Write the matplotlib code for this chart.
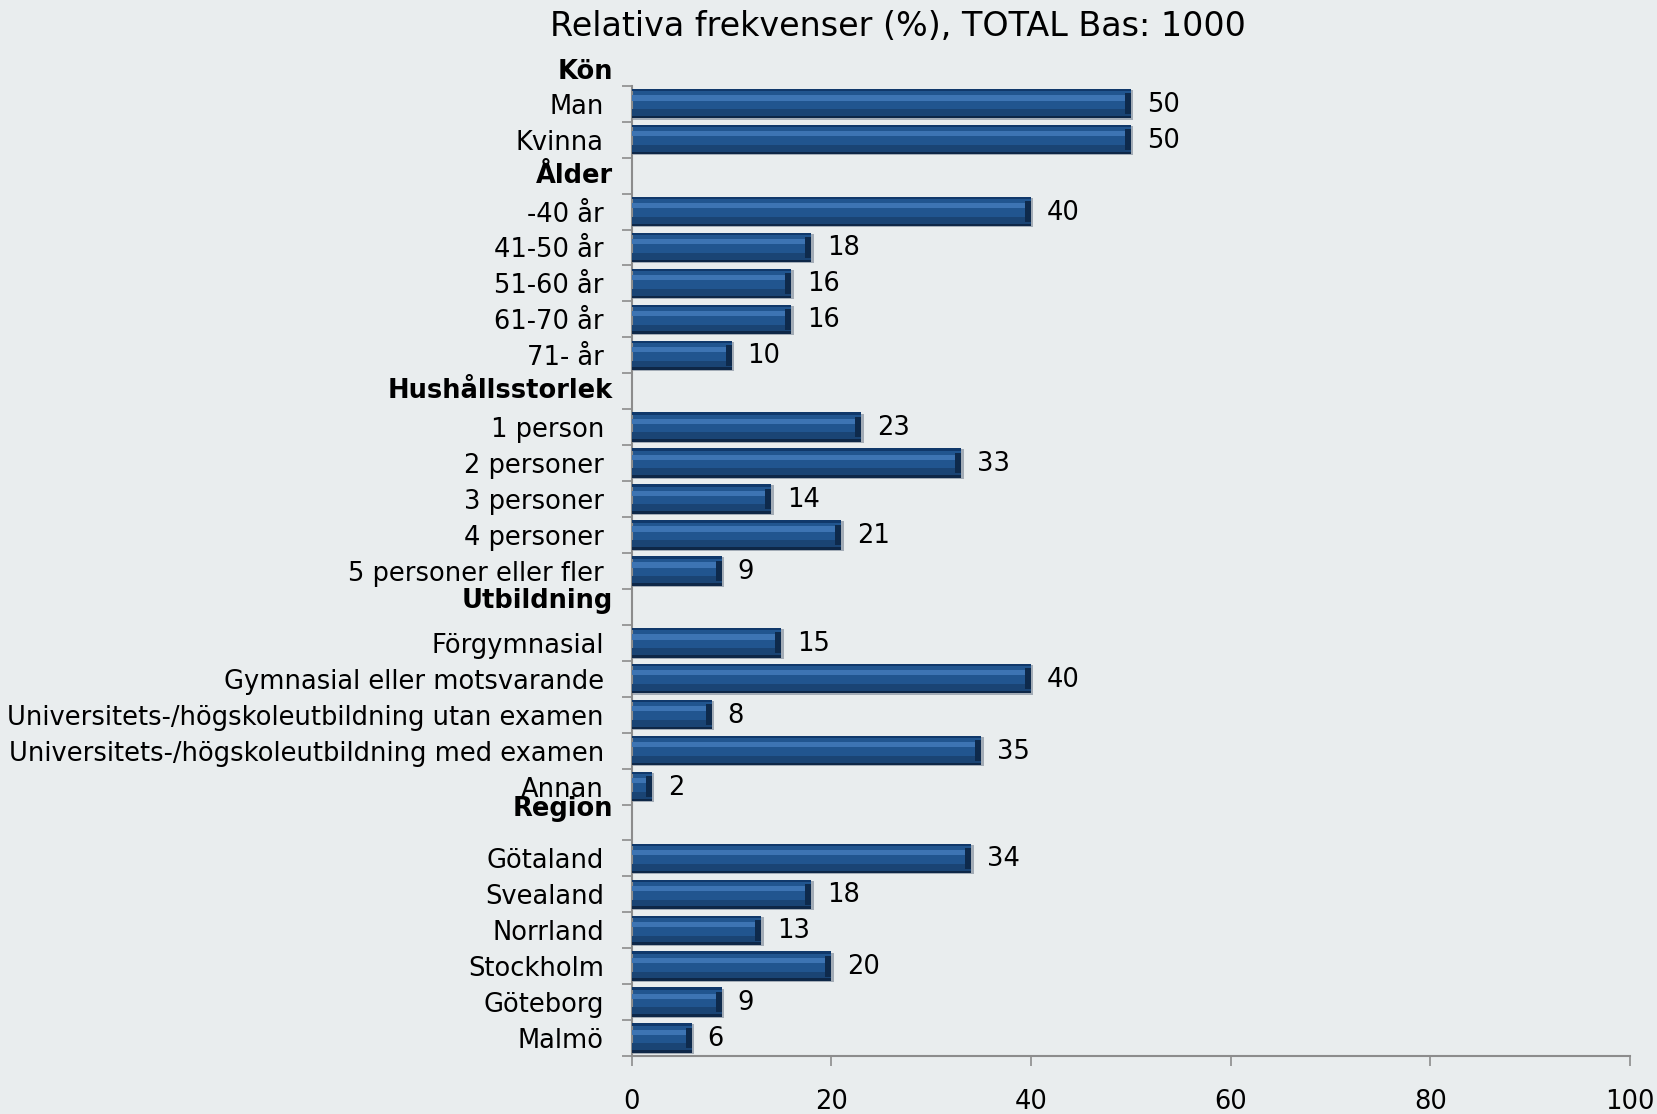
import numpy as np
import matplotlib.pyplot as plt

# categories (empty string = group header row)
labels = ['Man', 'Kvinna', '',
          '-40 år', '41-50 år', '51-60 år', '61-70 år', '71- år', '',
          '1 person', '2 personer', '3 personer', '4 personer', '5 personer eller fler', '',
          'Förgymnasial', 'Gymnasial eller motsvarande',
          'Universitets-/högskoleutbildning utan examen',
          'Universitets-/högskoleutbildning med examen', 'Annan', '',
          'Götaland', 'Svealand', 'Norrland', 'Stockholm', 'Göteborg', 'Malmö']
values = [50, 50, np.nan,
          40, 18, 16, 16, 10, np.nan,
          23, 33, 14, 21, 9, np.nan,
          15, 40, 8, 35, 2, np.nan,
          34, 18, 13, 20, 9, 6]
headers = ['Kön', 'Ålder', 'Hushållsstorlek', 'Utbildning', 'Region']
header_pos = [-0.88, 2.0, 8.0, 13.85, 19.62]
xticks = [0, 20, 40, 60, 80, 100]

bg = '#e9edee'
fs = 18.5
plt.rcParams['font.family'] = ['DejaVu Sans']
fig = plt.figure(figsize=(16.58, 11.14), dpi=100, facecolor=bg)
ax = fig.add_axes([0.381, 0.052, 0.602, 0.871])
ax.set_facecolor(bg)

y = np.arange(len(labels))
vals = np.array(values, dtype=float)
h = 0.82
top = y - h / 2

# layered bars to mimic the bevelled look
ax.barh(y + 0.03, vals + 0.25, height=h, color='#a3acb6', zorder=1)
ax.barh(y, vals, height=h, color='#21558f', zorder=2)
ax.barh(top + h * 0.84, vals, height=h * 0.32, color='#1a4474', zorder=3)
ax.barh(top + h * 0.955, vals, height=h * 0.09, color='#0e2747', zorder=4)
ax.barh(top + h * 0.30, vals, height=h * 0.18, color='#3d74b3', zorder=4)
ax.barh(top + h * 0.04, vals, height=h * 0.08, color='#10386a', zorder=4)
ax.barh(y, np.minimum(vals, 0.6), left=np.maximum(vals - 0.6, 0), height=h * 0.7,
        color='#0e2a4c', zorder=5)

for yi, v in zip(y, vals):
    if not np.isnan(v):
        ax.annotate(f'{v:.0f}', xy=(v, yi), xytext=(16, -1), textcoords='offset pixels',
                    ha='left', va='center', fontsize=fs)

for name, pos in zip(headers, header_pos):
    ax.annotate(name, xy=(0, pos), xycoords=('axes fraction', 'data'),
                xytext=(-19, 0), textcoords='offset pixels',
                ha='right', va='center', fontsize=fs, fontweight='bold',
                annotation_clip=False)

ax.set_xlim(0, 100)
ax.set_ylim(len(labels) - 0.5, -0.5)
ax.set_xticks(xticks)
ax.set_yticks(y)
ax.set_yticklabels(labels, fontsize=fs)
ax.set_yticks(np.arange(-0.5, len(labels)), minor=True)
ax.tick_params(axis='y', which='major', length=0, pad=20)
ax.tick_params(axis='y', which='minor', length=7, color='#8c8c8c', width=1.2)
ax.tick_params(axis='x', length=7, color='#8c8c8c', width=1.2, pad=17, labelsize=fs)

for s in ['top', 'right']:
    ax.spines[s].set_visible(False)
for s in ['left', 'bottom']:
    ax.spines[s].set_color('#8c8c8c')
    ax.spines[s].set_linewidth(1.5)

fig.text(0.5416, 0.976, 'Relativa frekvenser (%), TOTAL Bas: 1000',
         ha='center', va='center', fontsize=24)

fig.savefig('out.png', dpi=100, facecolor=bg)
